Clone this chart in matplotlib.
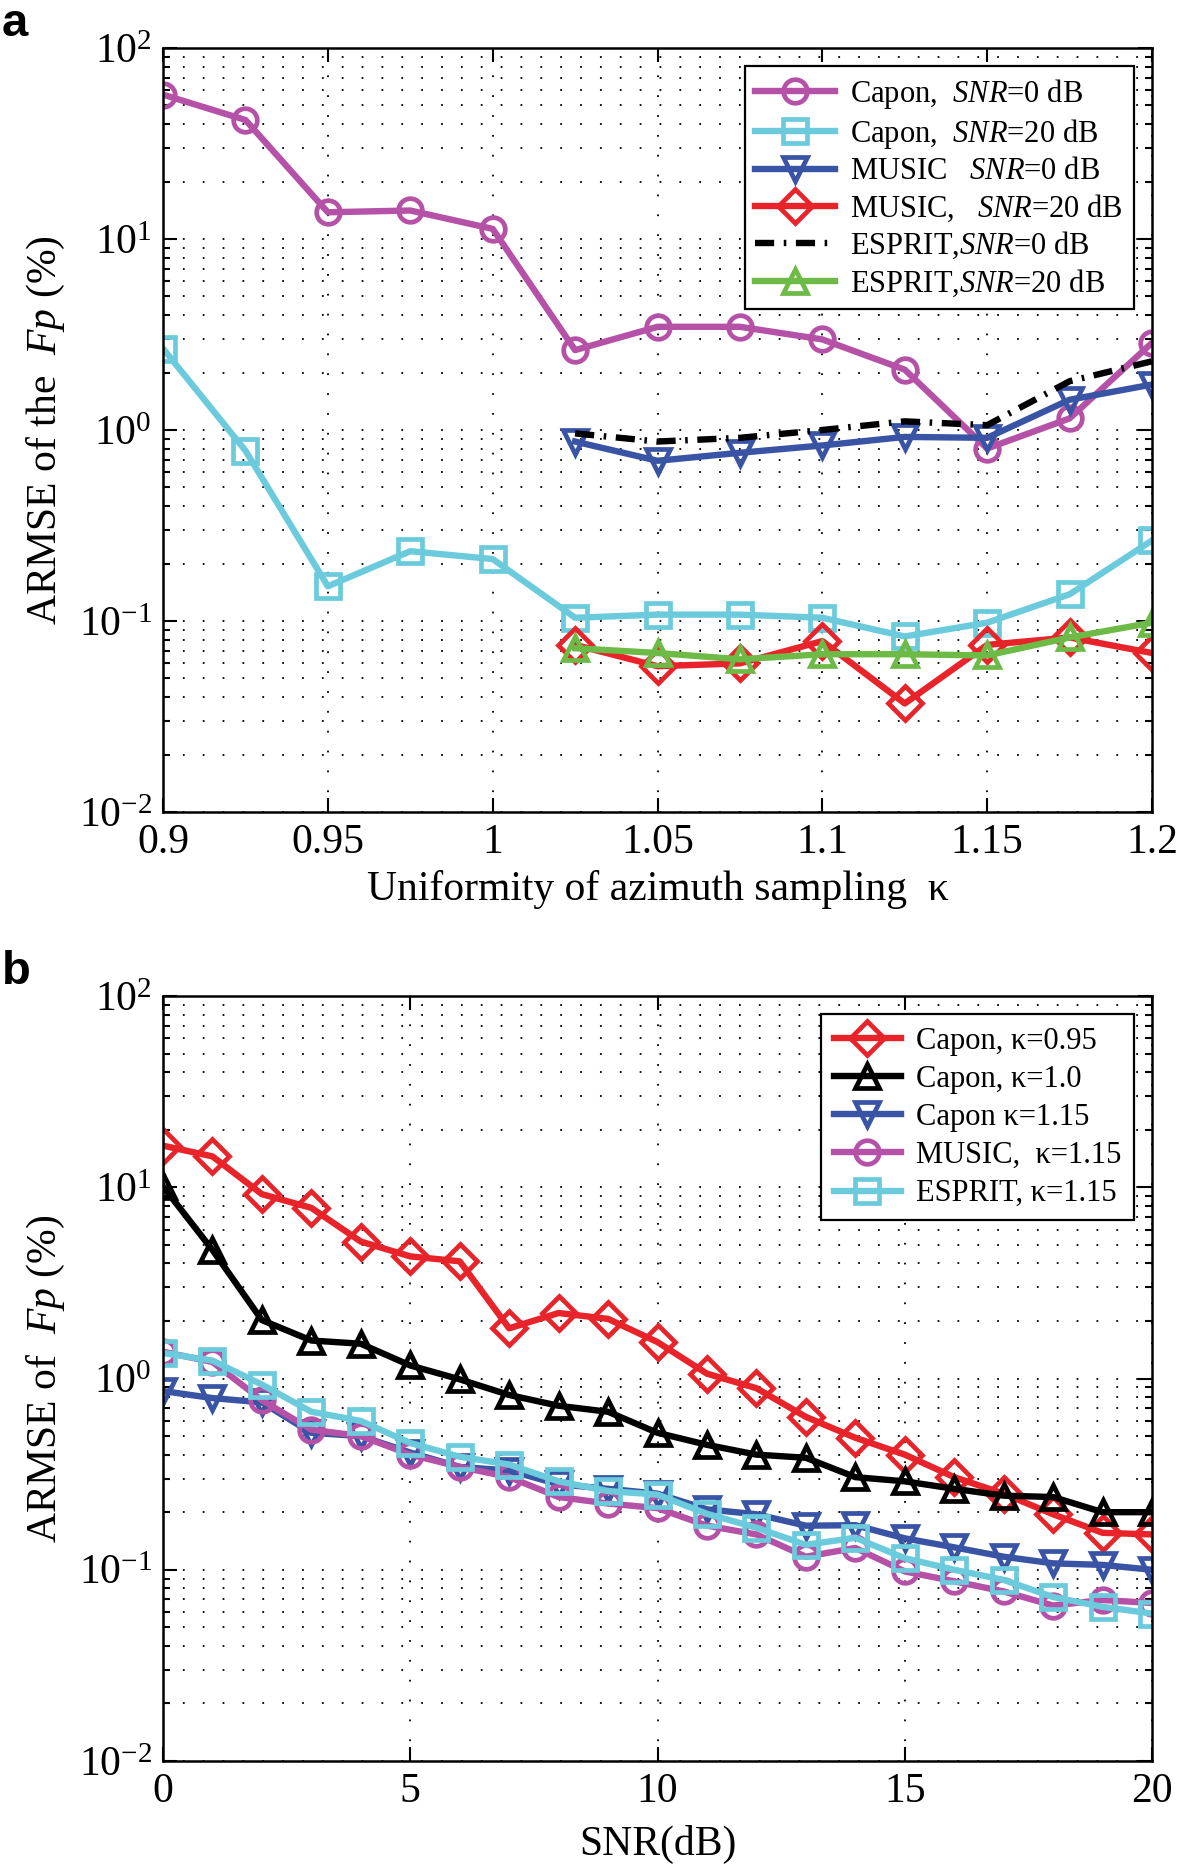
import matplotlib
matplotlib.use("Agg")
import matplotlib.pyplot as plt
import matplotlib.ticker as mticker
import numpy as np

plt.rcParams['font.family'] = ['Liberation Serif', 'DejaVu Serif']
plt.rcParams['mathtext.fontset'] = 'custom'
plt.rcParams['mathtext.rm'] = 'Liberation Serif'
plt.rcParams['mathtext.it'] = 'Liberation Serif:italic'
plt.rcParams['mathtext.bf'] = 'Liberation Serif:bold'

# ---- panel a: ARMSE vs uniformity kappa ----
kappa = [0.9, 0.925, 0.95, 0.975, 1.0, 1.025, 1.05, 1.075, 1.1, 1.125, 1.15, 1.175, 1.2]
kappa_sub = [1.025, 1.05, 1.075, 1.1, 1.125, 1.15, 1.175, 1.2]
capon_snr0 = [57, 42, 13.8, 14.1, 11.3, 2.62, 3.47, 3.47, 2.98, 2.07, 0.80, 1.15, 2.86]
capon_snr20 = [2.67, 0.78, 0.152, 0.232, 0.211, 0.104, 0.108, 0.108, 0.104, 0.083, 0.098, 0.138, 0.264]
music_snr0 = [0.87, 0.69, 0.76, 0.83, 0.92, 0.91, 1.44, 1.73]
music_snr20 = [0.075, 0.058, 0.060, 0.0785, 0.037, 0.075, 0.082, 0.068]
esprit_snr0 = [0.96, 0.87, 0.91, 1.0, 1.11, 1.06, 1.8, 2.29]
esprit_snr20 = [0.072, 0.068, 0.063, 0.067, 0.067, 0.066, 0.082, 0.098]

# ---- panel b: ARMSE vs SNR ----
snr = list(range(0, 21))
capon_k095 = [16.5, 14.5, 9.2, 7.8, 5.2, 4.35, 4.1, 1.83, 2.2, 2.05, 1.55, 1.06, 0.89,
              0.63, 0.49, 0.40, 0.305, 0.25, 0.195, 0.156, 0.153]
capon_k100 = [10.1, 4.7, 2.02, 1.58, 1.52, 1.17, 0.99, 0.82, 0.72, 0.67, 0.52, 0.45, 0.40,
              0.385, 0.305, 0.29, 0.265, 0.244, 0.24, 0.20, 0.20]
capon_k115 = [0.86, 0.79, 0.75, 0.52, 0.50, 0.41, 0.345, 0.33, 0.28, 0.265, 0.25, 0.207, 0.195,
              0.17, 0.171, 0.146, 0.131, 0.117, 0.108, 0.106, 0.10]
music_k115 = [1.38, 1.22, 0.77, 0.54, 0.50, 0.40, 0.345, 0.305, 0.24, 0.222, 0.21, 0.17, 0.153,
              0.117, 0.13, 0.098, 0.087, 0.077, 0.065, 0.0695, 0.067]
esprit_k115 = [1.36, 1.24, 0.93, 0.67, 0.60, 0.46, 0.39, 0.355, 0.29, 0.258, 0.247, 0.196, 0.166,
               0.135, 0.147, 0.115, 0.10, 0.0885, 0.072, 0.064, 0.059]

MAGENTA = '#B551A6'
CYAN = '#6BCBDC'
BLUE = '#3A54A5'
RED = '#E8232A'
GREEN = '#6DBB46'
BLACK = '#000000'

LW = 4.6
MS = 17
MEW = 3.4
TICK_FS = 30
LABEL_FS = 30
LEG_FS = 22

W, H = 1180, 1873
fig = plt.figure(figsize=(W / 100, H / 100), dpi=100)
ax_a = fig.add_axes([163 / W, 1 - 812 / H, 989 / W, 764 / H])
ax_b = fig.add_axes([163 / W, 1 - 1761 / H, 989 / W, 765 / H])


def mline(ax, x, y, color, marker, label, **kw):
    ax.plot(x, y, color=color, lw=LW, marker=marker, ms=MS, mew=MEW,
            mfc='none', mec=color, label=label, **kw)


def style_axes(ax):
    ax.set_yscale('log')
    ax.set_ylim(1e-2, 1e2)
    ax.yaxis.set_major_locator(mticker.LogLocator(base=10, numticks=10))
    ax.yaxis.set_minor_locator(mticker.LogLocator(base=10, subs=np.arange(2, 10), numticks=20))
    ax.yaxis.set_minor_formatter(mticker.NullFormatter())
    dots = (0, (1, 10))
    ax.grid(True, which='major', axis='both', color='black', lw=1.3, ls=dots)
    ax.grid(True, which='minor', axis='y', color='black', lw=1.3, ls=dots)
    ax.tick_params(which='both', direction='in', top=True, right=True, width=1.5)
    ax.tick_params(which='major', length=10, labelsize=TICK_FS, pad=8)
    ax.tick_params(which='minor', length=5)
    for s in ax.spines.values():
        s.set_linewidth(1.8)
    ax.set_axisbelow(True)


# panel a
mline(ax_a, kappa, capon_snr0, MAGENTA, 'o', r'Capon,  $\mathit{SNR}$=0 dB')
mline(ax_a, kappa, capon_snr20, CYAN, 's', r'Capon,  $\mathit{SNR}$=20 dB')
mline(ax_a, kappa_sub, music_snr0, BLUE, 'v', r'MUSIC   $\mathit{SNR}$=0 dB')
mline(ax_a, kappa_sub, music_snr20, RED, 'D', r'MUSIC,   $\mathit{SNR}$=20 dB')
ax_a.plot(kappa_sub, esprit_snr0, color=BLACK, lw=LW, ls=(0, (3, 1.5, 0.4, 1.5)),
          label=r'ESPRIT,$\mathit{SNR}$=0 dB')
mline(ax_a, kappa_sub, esprit_snr20, GREEN, '^', r'ESPRIT,$\mathit{SNR}$=20 dB')

style_axes(ax_a)
ax_a.set_xlim(0.9, 1.2)
ax_a.set_xticks([0.9, 0.95, 1.0, 1.05, 1.1, 1.15, 1.2])
ax_a.set_xticklabels(['0.9', '0.95', '1', '1.05', '1.1', '1.15', '1.2'])
ax_a.set_xlabel('Uniformity of azimuth sampling  κ', fontsize=LABEL_FS, labelpad=6)
ax_a.set_ylabel(r'ARMSE of the  $\mathit{Fp}$ (%)', fontsize=LABEL_FS, labelpad=8)
leg = ax_a.legend(loc='upper right', fontsize=LEG_FS, frameon=True, fancybox=False,
                  edgecolor='black', framealpha=1, handlelength=2.6, handletextpad=0.5,
                  labelspacing=0.2, borderpad=0.35, borderaxespad=0.6)
leg.get_frame().set_linewidth(1.6)

# panel b
mline(ax_b, snr, capon_k095, RED, 'D', 'Capon, κ=0.95')
mline(ax_b, snr, capon_k100, BLACK, '^', 'Capon, κ=1.0')
mline(ax_b, snr, capon_k115, BLUE, 'v', 'Capon κ=1.15')
mline(ax_b, snr, music_k115, MAGENTA, 'o', 'MUSIC,  κ=1.15')
mline(ax_b, snr, esprit_k115, CYAN, 's', 'ESPRIT, κ=1.15')

style_axes(ax_b)
ax_b.set_xlim(0, 20)
ax_b.set_xticks([0, 5, 10, 15, 20])
ax_b.set_xlabel('SNR(dB)', fontsize=LABEL_FS, labelpad=10)
ax_b.set_ylabel(r'ARMSE of  $\mathit{Fp}$ (%)', fontsize=LABEL_FS, labelpad=8)
leg = ax_b.legend(loc='upper right', fontsize=LEG_FS, frameon=True, fancybox=False,
                  edgecolor='black', framealpha=1, handlelength=2.2, handletextpad=0.5,
                  labelspacing=0.3, borderpad=0.4, borderaxespad=0.6)
leg.get_frame().set_linewidth(1.6)

fig.text(2 / W, 1 - 2 / H, 'a', fontsize=34, fontweight='bold',
         family=['Liberation Sans', 'DejaVu Sans'], va='top', ha='left')
fig.text(2 / W, 1 - 950 / H, 'b', fontsize=34, fontweight='bold',
         family=['Liberation Sans', 'DejaVu Sans'], va='top', ha='left')

fig.savefig('out.png', dpi=100)
